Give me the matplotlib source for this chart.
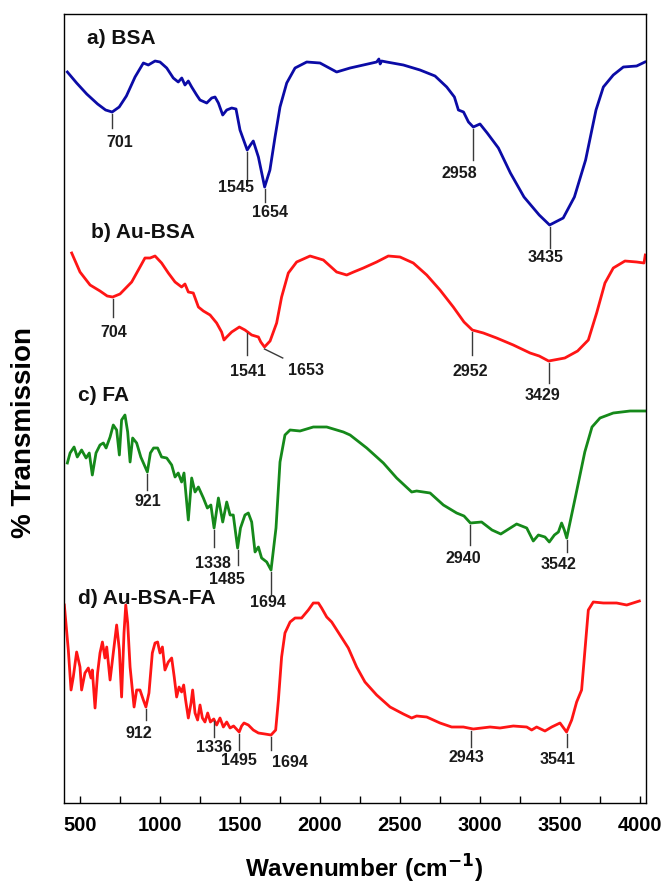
import matplotlib
matplotlib.use('Agg')
import matplotlib.pyplot as plt
import numpy as np

plt.rcParams['font.family'] = ['Liberation Sans', 'DejaVu Sans']

# Spectra (wavenumber in cm-1, transmission in arbitrary stacked units)
bsa_wn = [421, 479, 542, 610, 660, 701, 745, 790, 844, 896, 927, 969, 1000, 1042, 1083, 1114, 1136, 1156,
          1177, 1198, 1229, 1250, 1292, 1323, 1344, 1365, 1392, 1417, 1448, 1475, 1500, 1545, 1565, 1583,
          1615, 1654, 1687, 1719, 1750, 1792, 1844, 1917, 2000, 2104, 2188, 2271, 2354, 2368, 2376, 2385,
          2417, 2521, 2625, 2719, 2792, 2840, 2865, 2897, 2928, 2958, 3000, 3045, 3115, 3190, 3275, 3370,
          3435, 3520, 3590, 3660, 3725, 3771, 3833, 3896, 3979, 4031]
bsa_t = [731, 720, 709, 699, 693, 691, 696, 707, 726, 740, 738, 742, 741, 735, 725, 721, 725, 718,
         722, 716, 708, 703, 700, 705, 706, 700, 688, 693, 695, 694, 673, 653, 658, 662,
         646, 616, 633, 666, 696, 720, 735, 741, 740, 731, 735, 738, 741, 744, 739, 742,
         741, 738, 733, 727, 716, 706, 693, 691, 681, 676, 679, 670, 655, 630, 606, 588,
         578, 585, 606, 643, 693, 716, 728, 736, 737, 741]

au_bsa_wn = [448, 500, 563, 625, 670, 704, 750, 823, 875, 906, 938, 969, 1010, 1052, 1094, 1135, 1156,
             1177, 1208, 1240, 1271, 1313, 1354, 1385, 1400, 1417, 1448, 1496, 1531, 1573, 1615, 1630,
             1653, 1688, 1729, 1760, 1802, 1854, 1938, 2021, 2104, 2167, 2210, 2271, 2354, 2427, 2500,
             2583, 2667, 2750, 2833, 2900, 2952, 3021, 3104, 3208, 3313, 3370, 3429, 3530, 3610, 3677,
             3729, 3781, 3833, 3906, 3979, 4025, 4033]
au_bsa_t = [550, 531, 518, 512, 507, 506, 509, 521, 536, 545, 545, 547, 540, 530, 521, 516, 519,
            511, 510, 496, 492, 488, 480, 471, 463, 466, 471, 476, 473, 468, 466, 461,
            456, 462, 480, 506, 530, 541, 547, 543, 531, 528, 531, 535, 541, 547, 546,
            540, 528, 513, 496, 481, 473, 470, 465, 458, 450, 447, 442, 445, 452, 463,
            490, 520, 535, 542, 541, 540, 548]

fa_wn = [421, 438, 463, 483, 510, 538, 558, 577, 600, 625, 646, 663, 688, 708, 729, 746, 760, 781, 798,
         813, 829, 854, 880, 921, 940, 960, 985, 1010, 1042, 1073, 1094, 1114, 1135, 1150, 1177, 1198,
         1219, 1240, 1271, 1296, 1318, 1338, 1365, 1392, 1417, 1438, 1458, 1485, 1503, 1531, 1552, 1573,
         1594, 1615, 1635, 1667, 1694, 1725, 1750, 1781, 1813, 1875, 1958, 2042, 2146, 2188, 2292, 2396,
         2479, 2573, 2604, 2688, 2771, 2854, 2900, 2940, 3010, 3075, 3130, 3229, 3292, 3333, 3365, 3406,
         3433, 3465, 3490, 3510, 3527, 3542, 3595, 3655, 3700, 3750, 3833, 3938, 4031]
fa_t = [340, 350, 356, 346, 353, 345, 350, 328, 350, 358, 360, 355, 366, 378, 373, 348, 383, 388, 371,
        341, 365, 360, 346, 331, 350, 355, 355, 346, 345, 338, 326, 330, 321, 330, 283, 325,
        311, 316, 305, 295, 298, 275, 305, 281, 301, 288, 288, 255, 275, 288, 290, 281,
        251, 256, 245, 241, 233, 275, 341, 368, 373, 372, 376, 376, 371, 368, 355, 340,
        325, 311, 312, 310, 298, 290, 287, 280, 281, 273, 269, 279, 275, 262, 268, 266,
        261, 268, 271, 280, 273, 265, 305, 351, 376, 385, 390, 392, 392]

au_bsa_fa_wn = [402, 427, 444, 458, 479, 500, 510, 531, 552, 569, 577, 594, 610, 625, 640, 656, 667, 688,
                708, 729, 746, 760, 775, 786, 798, 813, 823, 838, 854, 875, 896, 912, 931, 952, 969, 985,
                1000, 1015, 1031, 1052, 1073, 1089, 1104, 1119, 1135, 1148, 1160, 1177, 1194, 1204, 1219,
                1235, 1250, 1265, 1281, 1298, 1315, 1336, 1354, 1375, 1396, 1417, 1438, 1460, 1495, 1510,
                1525, 1552, 1583, 1615, 1656, 1694, 1723, 1740, 1760, 1781, 1813, 1844, 1885, 1927, 1958,
                1990, 2010, 2042, 2073, 2125, 2177, 2229, 2281, 2354, 2438, 2521, 2573, 2604, 2667, 2750,
                2823, 2896, 2958, 3063, 3125, 3208, 3292, 3323, 3354, 3406, 3448, 3500, 3541, 3573, 3604,
                3635, 3656, 3677, 3708, 3771, 3854, 3917, 3996]
au_bsa_fa_t = [198, 153, 113, 126, 151, 136, 113, 130, 135, 125, 133, 95, 130, 150, 161, 145, 156, 123,
               150, 178, 153, 106, 170, 198, 180, 136, 120, 96, 113, 113, 103, 96, 110, 150, 160, 161,
               150, 156, 133, 141, 145, 126, 106, 116, 111, 118, 103, 85, 100, 113, 90,
               83, 98, 85, 81, 90, 81, 84, 78, 85, 76, 81, 75, 77, 71, 77,
               80, 78, 73, 70, 69, 68, 73, 103, 146, 170, 181, 185, 185, 193, 200,
               200, 195, 186, 181, 168, 155, 136, 121, 108, 96, 89, 85, 87, 86, 80,
               76, 76, 74, 76, 75, 77, 76, 73, 76, 72, 76, 80, 71, 83, 101,
               113, 153, 193, 201, 200, 200, 198, 202]

names = ['a) BSA', 'b) Au-BSA', 'c) FA', 'd) Au-BSA-FA']
peaks = [[701, 1545, 1654, 2958, 3435],
         [704, 1541, 1653, 2952, 3429],
         [921, 1338, 1485, 1694, 2940, 3542],
         [912, 1336, 1495, 1694, 2943, 3541]]

spectra = [(bsa_wn, bsa_t), (au_bsa_wn, au_bsa_t), (fa_wn, fa_t), (au_bsa_fa_wn, au_bsa_fa_t)]
colors = ['#0b0ba6', '#ff1515', '#15891a', '#ff1515']

# label layout: title position, marker line ends, text offsets
title_pos = [(543, 765), (569, 571), (490, 408), (490, 205)]
line_end = [[675, 621, 601, 643, 555],
            [486, 448, 445, 448, 420],
            [313, 256, 238, 209, 258, 251],
            [83, 66, 53, 53, 56, 56]]
line_dx = [[0, 0, 0, 0, 0],
           [0, 0, 114, 0, 0],
           [0, 0, 0, 0, 0, 0],
           [0, 0, 0, 0, 0, 0]]
text_dx = [[46, -67, 31, -89, -27],
           [10, 10, 260, -10, -40],
           [6, -6, -69, -17, -42, -52],
           [-42, 0, 0, 121, -31, -56]]
text_y = [[661, 616, 591, 630, 546],
          [471, 432, 433, 432, 408],
          [302, 240, 224, 201, 245, 239],
          [70, 56, 43, 41, 46, 44]]

fig = plt.figure(figsize=(6.65, 8.88), dpi=100)
ax = fig.add_axes([64 / 665, 85 / 888, 582 / 665, 789 / 888])

for i, (wn, t) in enumerate(spectra):
    ax.plot(wn, t, color=colors[i], lw=2.0, solid_joinstyle='round')
    ax.text(title_pos[i][0], title_pos[i][1], names[i], fontsize=15, fontweight='bold',
            ha='left', va='center', color='#111111')
    for j, p in enumerate(peaks[i]):
        y0 = np.interp(p, wn, t) - 2
        ax.plot([p, p + line_dx[i][j]], [y0, line_end[i][j]], color='#3a3a3a', lw=1.0)
        ax.text(p + text_dx[i][j], text_y[i][j], str(p), fontsize=11.5, fontweight='bold',
                ha='center', va='center', color='#1a1a1a')

ax.set_xlim(400, 4037.5)
ax.set_ylim(0, 789)
ax.set_yticks([])
ax.set_xticks(np.arange(500, 4001, 500))
ax.set_xticks(np.arange(750, 4001, 500), minor=True)
ax.tick_params(axis='x', which='both', direction='in', length=5, width=1.0,
               top=False, labelsize=14.5, pad=9)
for lab in ax.get_xticklabels():
    lab.set_fontweight('bold')
for s in ax.spines.values():
    s.set_linewidth(1.0)

fig.text(364 / 665, 1 - 869 / 888, 'Wavenumber (cm$^{\\mathbf{-1}}$)', fontsize=17.5, fontweight='bold',
         ha='center', va='center')
fig.text(24.5 / 665, 1 - 432 / 888, '% Transmission', fontsize=20, fontweight='bold',
         rotation=90, ha='center', va='center')

plt.savefig('out.png', dpi=100)
plt.close()
